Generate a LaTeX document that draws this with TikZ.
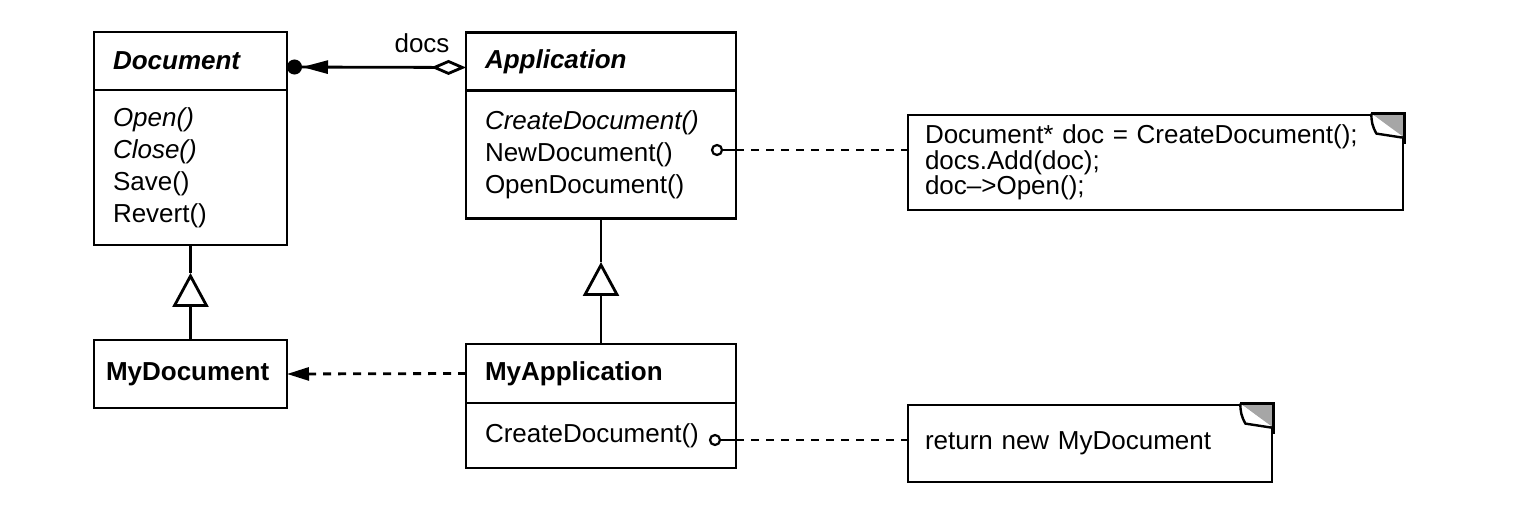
\documentclass[tikz,border=0pt]{standalone}
\usepackage{fontspec}
\setmainfont{Liberation Sans}
\usetikzlibrary{positioning,arrows.meta}

\tikzset{
  classhead/.style={draw, line width=2.8pt, outer sep=0pt, minimum height=58pt, inner xsep=19pt, align=left},
  classbody/.style={draw, line width=2.8pt, outer sep=0pt, inner xsep=19pt, align=left},
  notebox/.style={draw, line width=2.8pt, inner xsep=17pt, align=left, font=\fontsize{26}{20}\selectfont},
  hookdot/.style={circle, draw, fill=white, line width=2.2pt, inner sep=0pt, minimum size=10pt},
  solidline/.style={line width=2.8pt},
  dashline/.style={line width=2.8pt, dash pattern=on 8pt off 7pt},
  gentip/.style={-{Triangle[fill=white,length=34pt,width=36pt]}}
}

\begin{document}
\begin{tikzpicture}[x=1pt, y=-1pt, font=\fontsize{26}{32}\selectfont]
\useasboundingbox (0,0) rectangle (1540,510);

\node[classhead, text width=155pt] (dochead) at (190.5,61) {\textbf{\textit{Document}}};
\node[classbody, text width=155pt, minimum height=155pt, below=0pt of dochead] (docbody)
  {\textit{Open()}\\\textit{Close()}\\Save()\\Revert()};

\node[classhead, text width=232pt] (apphead) at (601,61.5) {\textbf{\textit{Application}}};
\node[classbody, text width=232pt, minimum height=128pt, below=0pt of apphead] (appbody)
  {\textit{CreateDocument()}\\NewDocument()\\OpenDocument()};

\node[classhead, inner xsep=12pt, text width=169pt, minimum height=68pt] (mydoc) at (190.5,374) {\textbf{MyDocument}};

\node[classhead, text width=232pt, minimum height=59pt] (myapphead) at (601,373.5) {\textbf{MyApplication}};
\node[classbody, text width=232pt, minimum height=65pt, below=0pt of myapphead] (myappbody) {CreateDocument()};

\node[notebox, text width=461pt, minimum height=95pt] (note1) at (1155.5,162.5)
  {Document* doc = CreateDocument();\\docs.Add(doc);\\doc–>Open();};
\node[notebox, text width=330pt, minimum height=77pt] (note2) at (1090,443.5) {return new MyDocument};

\foreach \n in {note1,note2} {
  \fill[gray!70] (\n.north east) -- ++(-33,0) -- ++(33,24) -- cycle;
  \fill[white] ([xshift=-33pt]\n.north east) -- ([xshift=-28pt,yshift=-20pt]\n.north east)
    -- ([xshift=-2pt,yshift=-24pt]\n.north east) -- cycle;
  \draw[line width=2.4pt] ([xshift=-33pt]\n.north east) to[bend right=15] ([xshift=-28pt,yshift=-20pt]\n.north east)
    -- ([xshift=-2pt,yshift=-24pt]\n.north east);
  \draw[solidline] ([xshift=-33pt]\n.north east) -- (\n.north east) -- ++(0,30);
}

\node (docs) at (422,43) {docs};
\draw[solidline, {Diamond[fill=white,length=35pt,width=15pt]}-{Triangle[length=26pt,width=13pt]Circle[length=15pt,width=15pt]}]
  ([yshift=-6pt]apphead.west) -- ([yshift=-6pt]dochead.east);

\coordinate (gen1) at (190.5,273);
\draw[solidline, gentip] (mydoc.north) -- (gen1);
\draw[solidline] (gen1) -- (docbody.south);
\coordinate (gen2) at (601,262);
\draw[solidline, gentip] (myapphead.north) -- (gen2);
\draw[solidline] (gen2) -- (appbody.south);

\draw[dashline, -{Triangle[length=22pt,width=13pt]}] (myapphead.west) -- (mydoc.east);

\node[hookdot] (dot1) at (717,150) {};
\coordinate (edge1) at (appbody.east |- dot1);
\draw[solidline] (dot1) -- (edge1);
\draw[dashline] (edge1) -- (edge1 -| note1.west);

\node[hookdot] (dot2) at (715,440) {};
\coordinate (edge2) at (myappbody.east |- dot2);
\draw[solidline] (dot2) -- (edge2);
\draw[dashline] (edge2) -- (edge2 -| note2.west);
\end{tikzpicture}
\end{document}
